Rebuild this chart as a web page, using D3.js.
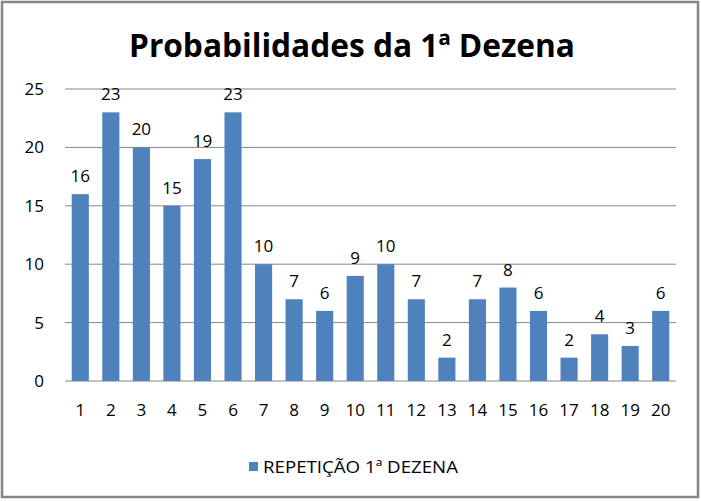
<!DOCTYPE html>
<html>
<head>
<meta charset="utf-8">
<script src="https://cdn.jsdelivr.net/npm/d3@7"></script>
<style>
  body { margin: 0; background: #fff; }
  text { font-family: "Open Sans", "DejaVu Sans", sans-serif; }
</style>
</head>
<body>
<svg id="chart" width="701" height="501"></svg>
<script>
// dados
const categorias = ["1","2","3","4","5","6","7","8","9","10","11","12","13","14","15","16","17","18","19","20"];
const repeticoes = [16, 23, 20, 15, 19, 23, 10, 7, 6, 9, 10, 7, 2, 7, 8, 6, 2, 4, 3, 6];
const yTicks = [0, 5, 10, 15, 20, 25];
const titulo = "Probabilidades da 1ª Dezena";
const serieNome = "REPETIÇÃO 1ª DEZENA";

const svg = d3.select("#chart");
const cor = "#4f81bd";

// moldura
svg.append("rect")
    .attr("x", 2).attr("y", 2).attr("width", 696).attr("height", 495)
    .attr("fill", "#fff").attr("stroke", "#868686").attr("stroke-width", 2.5);

const pLeft = 65, pRight = 676, pTop = 89, pBottom = 381;

const x = d3.scaleBand().domain(categorias).range([pLeft, pRight]).paddingInner(0.44).paddingOuter(0.22);
const y = d3.scaleLinear().domain([0, 25]).range([pBottom, pTop]);

// grade
svg.append("g").selectAll("line").data(yTicks).join("line")
    .attr("x1", pLeft).attr("x2", pRight)
    .attr("y1", d => y(d)).attr("y2", d => y(d))
    .attr("stroke", "#868686").attr("stroke-width", 1);

// eixo y
const yAxis = svg.append("g").attr("transform", `translate(${pLeft},0)`)
    .call(d3.axisLeft(y).tickValues(yTicks).tickSize(0).tickPadding(21));
yAxis.select(".domain").remove();
yAxis.selectAll("text").attr("font-size", 17).attr("fill", "#000")
    .style("font-family", "'Open Sans', sans-serif");

// eixo x
const xAxis = svg.append("g").attr("transform", `translate(0,${pBottom})`)
    .call(d3.axisBottom(x).tickSize(0).tickPadding(23));
xAxis.select(".domain").remove();
xAxis.selectAll("text").attr("font-size", 17).attr("fill", "#000")
    .style("font-family", "'Open Sans', sans-serif");

// barras
svg.append("g").selectAll("rect").data(repeticoes).join("rect")
    .attr("x", (d, i) => x(categorias[i]))
    .attr("y", d => y(d))
    .attr("width", x.bandwidth())
    .attr("height", d => y(0) - y(d))
    .attr("fill", cor);

// rotulos
svg.append("g").selectAll("text").data(repeticoes).join("text")
    .attr("x", (d, i) => x(categorias[i]) + x.bandwidth() / 2)
    .attr("y", d => y(d) - 12)
    .attr("text-anchor", "middle")
    .attr("font-size", 17)
    .attr("fill", "#000")
    .text(d => d);

// titulo
svg.append("text")
    .attr("x", 352).attr("y", 57)
    .attr("text-anchor", "middle")
    .attr("font-size", 33).attr("font-weight", "bold")
    .attr("textLength", 446).attr("lengthAdjust", "spacingAndGlyphs")
    .text(titulo);

// legenda
svg.append("rect").attr("x", 249).attr("y", 462).attr("width", 9).attr("height", 9).attr("fill", cor);
svg.append("text").attr("x", 263).attr("y", 473)
    .attr("font-size", 17).attr("fill", "#000")
    .attr("textLength", 195).attr("lengthAdjust", "spacingAndGlyphs")
    .text(serieNome);
</script>
</body>
</html>
